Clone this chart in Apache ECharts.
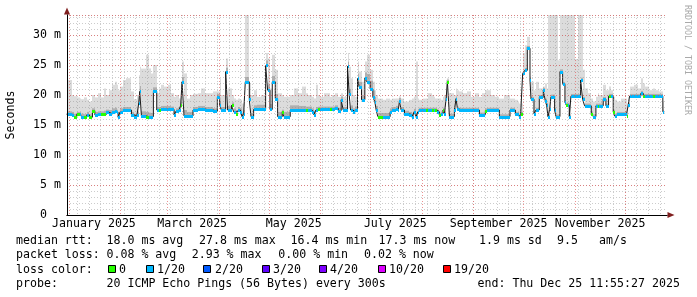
<!DOCTYPE html>
<html><head><meta charset="utf-8">
<script src="https://cdn.jsdelivr.net/npm/echarts@6/dist/echarts.min.js"></script>
<style>html,body{margin:0;padding:0;background:#fff}#c{width:697px;height:297px}</style>
</head><body><div id="c"></div>
<script>
// ---- data (x = days since 1 Jan 2025, values in ms) ----
const days = [
-1.5,2.1,3.1,4.7,6.5,7.5,9.1,10.7,12.3,14.1,15.5,17.5,19.1,21.1,22.5,24.1,25.9,27.5,28.7,29.5,30.7,32.3,34.5,37.5,39.1,40.7,41.9,42.5,43.5,46.5,47.9,49.2,50.7,52.7,54.3,55.5,57.3,59.5,61.2,63.1,64.3,65.9,67.1,67.9,69.1,71.1,72.9,74.5,77.5,79.5,81.5,83.7,86.5,89.1,90.5,
91.5,94.1,95.3,97.7,98.9,100.5,101.7,102.9,103.9,104.9,105.9,108.3,109.3,110.9,113.1,115.5,118.1,119.3,120.7,122.1,123.9,125.3,128.1,129.1,132.9,135.3,137.7,140.1,142.5,143.7,145.7,147.1,148.3,149.7,150.9,153.3,156.5,157.7,159.7,161.7,163.5,164.7,167.3,168.3,169.1,170.5,171.9,173.3,174.3,175.7,177.7,178.9,
180.9,182.5,183.7,184.5,185.5,188.5,190.5,192.9,194.1,196.5,197.9,198.5,199.5,201.5,204.1,206.1,207.3,208.5,209.5,210.5,212.7,214.5,215.5,218.1,219.5,220.1,221.1,222.5,223.7,224.7,225.5,226.5,227.3,228.5,231.5,232.5,233.3,234.5,236.7,239.1,241.5,243.9,246.5,248.1,250.1,251.3,253.5,255.9,258.5,261.3,264.9,268.1,269.7,
270.5,271.3,272.5,273.7,275.3,276.9,277.5,279.3,280.5,282.5,284.9,286.1,286.9,287.7,288.7,289.5,291.7,292.5,293.7,294.9,296.5,297.9,298.7,299.5,300.5,301.5,303.9,305.7,307.3,308.5,309.7,311.7,313.7,314.9,316.5,317.5,318.5,320.9,322.5,324.1,325.5,326.9,327.7,328.9,331.5,334.9,335.9,336.7,339.3,341.7,343.5,344.9,346.1,348.3,350.9,352.1,354.3,356.7,357.6];
const median = [
16.8,16.7,16.4,16.8,16.8,16.4,16.3,16.7,16.3,17.4,16.7,16.8,16.8,16.8,17.1,16.9,17.2,17.3,17.1,16.3,17.2,17.5,17.5,16.7,16.4,16.7,18.7,20.6,16.5,16.4,16.4,16.4,20.6,17.5,17.5,17.6,17.6,17.6,17.6,16.7,17.3,17.5,18.3,22.2,16.5,16.5,16.5,17.5,17.7,17.7,17.5,17.5,17.3,19.6,18.3,
17.5,23.9,17.5,18.3,17.2,16.9,17.5,17.2,16.4,16.9,22.2,19.3,16.4,17.6,17.6,17.6,25.0,20.8,17.6,22.2,19.4,16.4,17.2,16.4,17.5,17.5,17.5,17.5,17.5,17.5,17.2,16.7,17.5,17.6,17.6,17.6,17.6,17.6,17.8,17.4,19.2,17.5,24.8,20.1,17.5,17.2,17.5,22.8,21.3,19.2,22.8,22.2,
21.0,19.7,18.9,17.5,16.4,16.4,16.4,17.2,17.5,17.7,17.5,19.0,17.5,16.9,16.7,16.3,17.2,16.4,17.2,17.5,17.5,17.5,17.5,17.5,17.5,17.5,17.2,16.7,16.9,17.5,16.9,19.3,22.2,16.4,17.5,19.4,17.7,17.5,17.5,17.5,17.5,17.5,16.7,16.7,17.4,17.5,17.5,17.5,16.4,16.4,17.5,16.8,16.9,
16.4,16.8,23.6,24.1,27.8,22.5,19.3,16.9,17.5,19.6,20.8,19.0,18.3,16.4,17.6,19.7,17.5,16.4,16.4,23.9,21.8,18.8,18.3,18.3,16.4,19.8,19.8,19.8,22.5,19.3,18.2,18.2,16.9,16.4,18.2,18.2,18.2,19.3,18.2,19.8,19.8,17.2,16.5,16.8,16.8,16.5,18.3,19.8,19.8,19.8,20.3,19.8,19.8,19.8,19.8,19.8,19.8,17.2,17.2];
// loss level index (0 = no loss, 1 = 1/20)
const loss = [
1,1,0,0,1,1,0,1,0,0,1,1,0,0,1,1,1,1,1,1,1,1,1,1,1,1,1,1,1,0,1,1,1,1,0,1,1,1,1,1,1,1,0,1,1,1,1,1,1,1,1,1,1,1,1,
1,1,1,0,1,0,1,1,1,1,1,1,1,1,1,1,1,1,1,1,1,1,0,1,1,1,1,1,0,1,1,1,1,0,1,1,0,1,1,1,1,1,1,1,1,1,1,1,1,1,1,1,
1,1,1,1,0,1,1,1,1,1,1,1,1,1,1,1,1,1,1,1,1,0,1,0,1,0,1,0,1,0,1,1,0,1,1,1,1,1,1,1,1,1,1,1,0,1,1,1,1,1,1,1,1,
1,0,1,1,1,1,1,1,1,1,1,1,1,1,1,1,1,1,1,1,1,1,0,1,1,1,1,1,1,1,1,1,0,1,1,0,1,1,1,0,1,0,1,1,1,0,1,1,1,1,1,0,1,1,0,1,1,1,1];
const smokeDark = [
17.3,17.2,16.9,17.2,17.3,16.9,16.8,17.2,16.8,17.8,17.2,17.3,17.3,17.4,17.6,17.5,17.8,17.9,17.6,16.9,17.8,18.0,18.0,17.2,16.9,17.3,19.5,21.5,17.3,17.2,17.1,17.0,21.3,18.0,18.0,18.2,18.2,18.2,18.1,17.3,17.8,18.0,19.0,23.0,17.5,17.2,17.2,18.0,18.2,18.2,18.0,18.0,17.8,20.2,19.0,
18.0,24.6,18.2,18.8,17.8,17.5,18.0,17.8,17.0,17.5,23.0,20.0,17.0,18.3,18.4,18.4,25.8,21.8,18.5,23.2,20.2,17.2,17.6,17.2,18.3,18.3,18.2,18.2,18.1,18.1,17.8,17.3,18.0,18.1,18.1,18.1,18.1,18.1,18.3,17.9,19.8,18.0,25.6,21.0,18.3,17.8,18.1,23.6,22.2,20.0,23.8,23.5,
22.4,20.8,19.7,18.2,17.0,17.0,17.0,17.8,18.0,18.2,18.0,19.5,18.0,17.4,17.2,16.8,17.7,17.0,17.7,17.9,17.9,17.9,17.9,17.9,17.9,17.9,17.6,17.1,17.3,17.9,17.3,19.8,22.6,16.9,17.9,19.8,18.1,17.9,17.9,17.9,17.9,17.9,17.1,17.1,17.8,17.9,17.9,17.9,16.8,16.8,17.9,17.2,17.3,
16.8,17.2,24.0,24.5,28.2,22.9,19.7,17.3,17.9,20.0,21.2,19.4,18.7,16.8,18.0,20.1,17.9,16.8,16.8,24.3,22.2,19.2,18.7,18.7,16.8,20.2,20.2,20.2,22.9,19.7,18.6,18.6,17.3,16.8,18.6,18.6,18.6,19.7,18.6,20.2,20.2,17.6,16.9,17.2,17.2,16.9,18.7,20.2,20.2,20.2,20.7,20.2,20.2,20.2,20.2,20.2,20.2,17.6,17.6];
const smokeMax = [
22.5,20.0,19.8,19.6,19.4,19.3,19.6,19.2,18.9,20.0,19.6,20.3,19.6,21.1,20.0,20.8,21.7,22.2,21.7,20.8,21.4,22.5,22.8,20.6,19.3,20.0,23.3,24.7,24.4,26.7,24.4,23.6,25.0,20.3,21.1,21.7,21.4,21.7,20.3,19.7,20.0,19.4,20.3,25.6,23.6,19.4,20.0,20.2,20.3,21.1,20.3,20.3,20.6,20.6,22.8,
20.0,26.1,21.1,20.0,19.4,19.2,19.4,19.2,18.6,19.4,34.0,21.9,20.0,20.8,19.7,20.0,27.0,26.1,21.1,26.7,24.2,20.3,20.0,19.7,20.0,21.1,20.3,21.4,20.3,20.0,19.7,19.4,21.7,20.0,19.7,20.3,19.7,20.0,20.3,19.7,20.3,19.7,27.0,24.7,22.8,20.0,19.7,25.6,23.9,22.2,25.6,26.7,
24.2,22.2,20.8,20.0,19.4,19.2,19.4,19.2,19.4,19.4,19.4,19.8,19.4,18.9,19.2,19.4,19.7,25.6,19.4,19.2,19.4,19.4,20.3,20.0,19.7,19.4,19.4,19.4,19.2,19.7,20.0,22.5,22.8,20.3,20.0,21.1,20.8,20.6,20.3,20.6,19.7,20.3,19.7,20.3,20.8,20.8,20.0,19.7,19.4,20.0,19.4,19.2,18.9,
18.6,18.6,27.0,28.3,29.7,23.1,22.2,20.8,22.2,21.1,21.4,21.9,21.1,34.0,34.0,34.0,34.0,34.0,25.8,34.0,34.0,34.0,34.0,34.0,34.0,34.0,26.0,34.0,34.0,24.2,21.1,20.3,19.4,18.9,19.7,20.3,20.0,21.7,20.8,21.4,20.8,19.7,19.2,18.9,19.4,18.6,19.2,21.4,21.7,21.1,22.8,21.9,21.4,20.8,21.1,20.8,20.6,18.9,18.9];

const monthStarts = [0,31,59,90,120,151,181,212,243,273,304,334];
const labelDays = [15,74,135,196,258,319];
const labelNames = ['January 2025','March 2025','May 2025','July 2025','September 2025','November 2025'];
const weekStarts = []; for (let d = 5; d <= 358; d += 7) weekStarts.push(d);
const lossLabels = ['0','1/20','2/20','3/20','4/20','10/20','19/20'];
const lossColors = ['#26ff00','#00b8ff','#0059ff','#5e00ff','#7e00ff','#dd00ff','#ff0000'];
// legend rows: [text, left x]
const rowMedian = [['median rtt:',16],['18.0 ms avg',106.5],['27.8 ms max',199],['16.4 ms min',290.5],['17.3 ms now',378.5],['1.9 ms sd',479],['9.5',557],['am/s',599]];
const rowLoss = [['packet loss:',16],['0.08 % avg',106.5],['2.93 % max',191.7],['0.00 % min',278.3],['0.02 % now',364]];
const rowColor = [['loss color:',16]];
const rowProbe = [['probe:',16],['20 ICMP Echo Pings (56 Bytes) every 300s',106.5],['end: Thu Dec 25 11:55:27 2025',477.5]];

// ---- chart ----
const FONT = 'DejaVu Sans Mono';
const FS = 11.6;
const X_MIN = -1.2, X_MAX = 359.2, Y_MAX = 100/3;
const GRID_MINOR = 'rgba(143,143,143,0.45)';
const GRID_MAJOR = 'rgba(222,79,79,0.62)';
const ARROW = '#801f1f';

const segs = [];
for (let i = 0; i < days.length - 1; i++) segs.push([days[i], days[i+1], median[i], smokeDark[i], smokeMax[i], loss[i]]);

function smokeItem(params, api) {
  const cs = params.coordSys;
  const x0 = Math.round(api.coord([api.value(0), 0])[0]);
  const x1 = Math.round(api.coord([api.value(1), 0])[0]);
  const yM = api.coord([0, api.value(2)])[1];
  const yD = api.coord([0, api.value(3)])[1];
  const yX = Math.max(api.coord([0, api.value(4)])[1], cs.y);
  return {type: 'group', children: [
    {type: 'rect', shape: {x: x0, y: yX, width: x1 - x0, height: Math.max(0, yD - yX)}, style: {fill: '#dcdcdc'}},
    {type: 'rect', shape: {x: x0, y: yD, width: x1 - x0, height: Math.max(0, yM - yD)}, style: {fill: '#b0b0b0'}}
  ]};
}
function lossItem(params, api) {
  const x0 = Math.round(api.coord([api.value(0), 0])[0]);
  const x1 = Math.round(api.coord([api.value(1), 0])[0]);
  const y = Math.round(api.coord([0, api.value(2)])[1]);
  return {type: 'rect', shape: {x: x0, y: y - 1, width: x1 - x0, height: 3}, style: {fill: lossColors[api.value(5)]}};
}

const labelStyle = {fontFamily: FONT, fontSize: FS, color: '#000'};
const graphics = [];
const rowY = [241, 255.3, 269.6, 284];
[rowMedian, rowLoss, rowColor, rowProbe].forEach((row, r) => {
  row.forEach(([t, x]) => graphics.push({type: 'text', x: x, y: rowY[r],
    style: {text: t, font: FS + 'px "' + FONT + '"', fill: '#000', verticalAlign: 'middle', align: 'left'}}));
});
const boxX = [108, 146, 203, 262, 319, 378, 443];
const txtX = [119, 157, 215, 273, 330, 389, 454];
lossLabels.forEach((t, i) => {
  graphics.push({type: 'rect', shape: {x: boxX[i] + 0.5, y: 265.5, width: 7, height: 7}, style: {fill: lossColors[i], stroke: '#000', lineWidth: 1}});
  graphics.push({type: 'text', x: txtX[i], y: rowY[2], style: {text: t, font: FS + 'px "' + FONT + '"', fill: '#000', verticalAlign: 'middle', align: 'left'}});
});
graphics.push({type: 'text', x: 687, y: 5, rotation: -Math.PI / 2, style: {text: 'RRDTOOL / TOBI OETIKER', font: '8.3px "' + FONT + '"', fill: '#a9a9a9', verticalAlign: 'middle', align: 'left'}});

const chart = echarts.init(document.getElementById('c'));
chart.setOption({
  animation: false,
  backgroundColor: '#ffffff',
  grid: {left: 67, right: 30, top: 15, bottom: 82, containLabel: false, outerBoundsMode: 'none'},
  xAxis: [
    {type: 'value', position: 'bottom', min: X_MIN, max: X_MAX, z: 4,
     axisLine: {show: true, onZero: false, lineStyle: {color: '#000', width: 1}},
     axisTick: {show: false, customValues: monthStarts},
     axisLabel: {customValues: labelDays, formatter: v => labelNames[labelDays.indexOf(v)] || '', margin: 3, ...labelStyle},
     splitLine: {show: true, lineStyle: {color: GRID_MAJOR, width: 1, type: [1, 2]}}},
    {type: 'value', position: 'bottom', min: X_MIN, max: X_MAX, z: 3,
     axisLine: {show: false}, axisTick: {show: false, customValues: weekStarts}, axisLabel: {show: false},
     splitLine: {show: true, lineStyle: {color: GRID_MINOR, width: 1, type: [1, 2]}}},
    {type: 'value', position: 'bottom', min: X_MIN, max: X_MAX, z: 3.5,
     axisLine: {show: true, onZero: false, symbol: ['none', 'triangle'], symbolSize: [6, 7], symbolOffset: [0, 4], lineStyle: {color: ARROW, width: 1}},
     axisTick: {show: false}, axisLabel: {show: false}, splitLine: {show: false}}
  ],
  yAxis: [
    {type: 'value', position: 'left', min: 0, max: Y_MAX, interval: 5, z: 4,
     name: 'Seconds', nameLocation: 'middle', nameGap: 50, nameRotate: 90,
     nameTextStyle: {fontFamily: FONT, fontSize: FS, color: '#000'},
     axisLine: {show: true, onZero: false, lineStyle: {color: '#000', width: 1}},
     axisTick: {show: false},
     axisLabel: {showMaxLabel: false, margin: 6, formatter: v => v === 0 ? '0  ' : (v % 5 === 0 ? v + ' m' : ''), ...labelStyle},
     splitLine: {show: true, lineStyle: {color: GRID_MAJOR, width: 1, type: [1, 2]}}},
    {type: 'value', position: 'left', min: 0, max: Y_MAX, interval: 1, z: 3,
     axisLine: {show: false}, axisTick: {show: false}, axisLabel: {show: false},
     splitLine: {show: true, lineStyle: {color: GRID_MINOR, width: 1, type: [1, 2]}}},
    {type: 'value', position: 'left', min: 0, max: Y_MAX, z: 3.5,
     axisLine: {show: true, onZero: false, symbol: ['none', 'triangle'], symbolSize: [6, 7], symbolOffset: [0, 4], lineStyle: {color: ARROW, width: 1}},
     axisTick: {show: false}, axisLabel: {show: false}, splitLine: {show: false}}
  ],
  series: [
    {type: 'custom', name: 'smoke', z: 1, renderItem: smokeItem, data: segs, encode: {x: [0, 1], y: [2, 3, 4]}, clip: true, silent: true},
    {type: 'line', name: 'median', z: 2, step: 'end', showSymbol: false, symbol: 'none',
     data: days.map((d, i) => [d, median[i]]), lineStyle: {color: '#1a1a1a', width: 1}, silent: true},
    {type: 'custom', name: 'loss', z: 3, renderItem: lossItem, data: segs, encode: {x: [0, 1], y: 2}, clip: true, silent: true}
  ],
  graphic: graphics
});
</script></body></html>
